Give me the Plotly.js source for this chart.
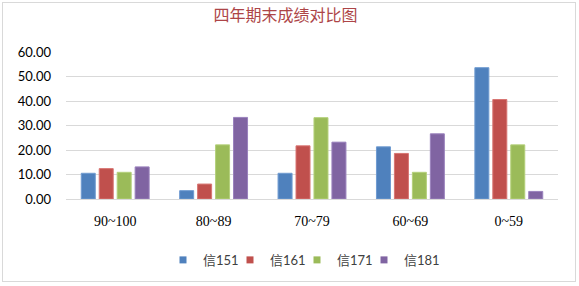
<!DOCTYPE html>
<html>
<head>
<meta charset="utf-8">
<script src="https://cdn.plot.ly/plotly-3.0.1.min.js"></script>
<style>
  html, body { margin: 0; padding: 0; background: #fff; }
  #wrap { position: relative; width: 579px; height: 286px; }
  #chart { position: absolute; left: 0; top: 0; width: 579px; height: 286px; }
  #frame { position: absolute; left: 2px; top: 2px; width: 572px; height: 278px; border: 1px solid #d9d9d9; pointer-events: none; }
</style>
</head>
<body>
<div id="wrap">
  <div id="chart"></div>
  <div id="frame"></div>
</div>
<script>
const categories = ["90~100", "80~89", "70~79", "60~69", "0~59"];
const seriesNames = ["信151", "信161", "信171", "信181"];
const xin151 = [10.5, 3.4, 10.5, 21.3, 53.6];
const xin161 = [12.4, 6.1, 21.7, 18.6, 40.6];
const xin171 = [10.9, 22.1, 33.2, 10.9, 22.1];
const xin181 = [13.1, 33.3, 23.2, 26.6, 3.1];
const seriesValues = [xin151, xin161, xin171, xin181];
const colors = ["#4f81bd", "#c0504d", "#9bbb59", "#8064a2"];
const edgeColors = ["#6f9bd1", "#d87572", "#b4d07a", "#9a82bd"];

const barTraces = seriesValues.map((vals, i) => ({
  type: "bar",
  name: seriesNames[i],
  legendgroup: seriesNames[i],
  showlegend: false,
  x: categories,
  y: vals,
  marker: { color: colors[i], line: { color: edgeColors[i], width: 1 } },
  hoverinfo: "none"
}));

// legend-only entries with small square swatches
const legendTraces = seriesNames.map((name, i) => ({
  type: "scatter",
  mode: "markers",
  name: name,
  legendgroup: name,
  x: [null],
  y: [null],
  marker: { symbol: "square", size: 7, color: colors[i] },
  hoverinfo: "none"
}));

const layout = {
  width: 579,
  height: 286,
  margin: { l: 66, r: 21, t: 52, b: 86 },
  paper_bgcolor: "#ffffff",
  plot_bgcolor: "#ffffff",
  title: {
    text: "四年期末成绩对比图",
    font: { family: "Noto Sans CJK SC", size: 16, color: "#ad4547" },
    x: 0.493, xanchor: "center", y: 0.945, yanchor: "middle"
  },
  barmode: "group",
  bargap: 0.27,
  bargroupgap: 0.22,
  showlegend: true,
  legend: {
    orientation: "h",
    x: 0.5, xanchor: "center",
    y: -0.405, yanchor: "middle",
    font: { family: "Lato, 'Noto Sans CJK SC'", size: 13, color: "#404040" },
    itemwidth: 30,
    indentation: -15,
    entrywidth: 37,
    entrywidthmode: "pixels",
    traceorder: "normal"
  },
  xaxis: {
    type: "category",
    showgrid: false,
    showline: false,
    zeroline: false,
    ticks: "",
    ticklabelstandoff: 12,
    tickfont: { family: "Liberation Serif", size: 14, color: "#000" }
  },
  yaxis: {
    range: [0, 60],
    dtick: 10,
    tick0: 0,
    tickformat: ".2f",
    showgrid: true,
    gridcolor: "#d9d9d9",
    gridwidth: 1,
    zeroline: true,
    zerolinecolor: "#d9d9d9",
    zerolinewidth: 1,
    showline: false,
    ticks: "",
    ticklabelstandoff: 14,
    tickfont: { family: "Lato", size: 13, color: "#000" }
  }
};

Plotly.newPlot("chart", barTraces.concat(legendTraces), layout, { displayModeBar: false, staticPlot: true });
</script>
</body>
</html>
